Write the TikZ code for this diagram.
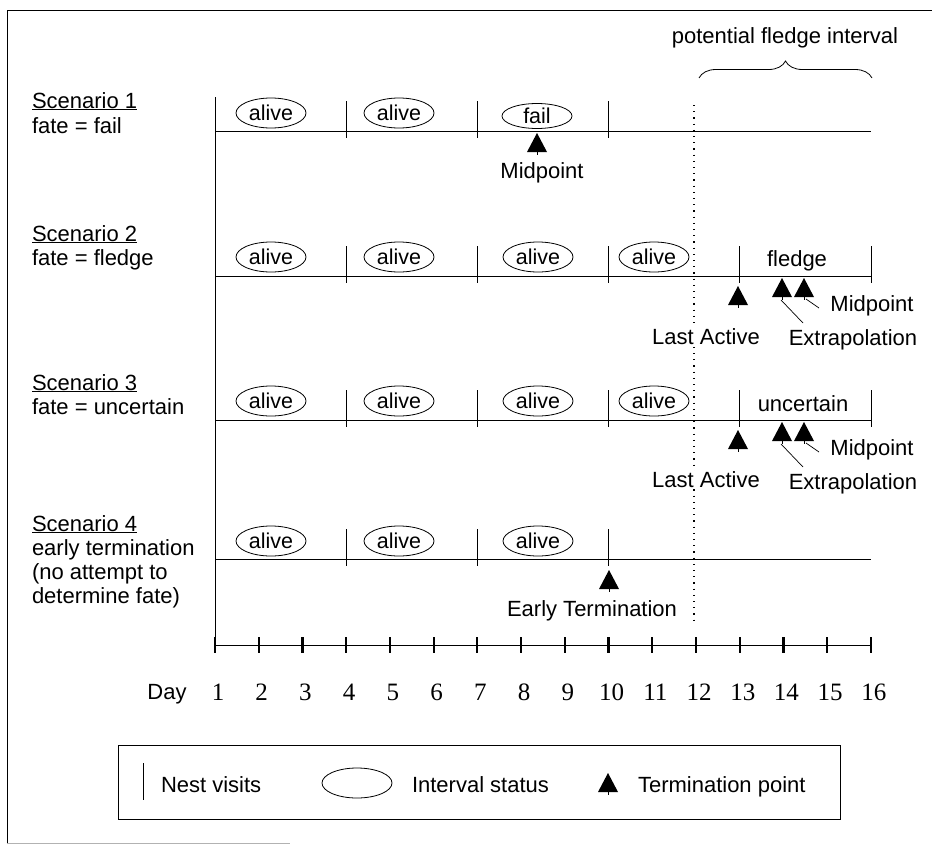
\documentclass[tikz,border=0pt]{standalone}
\usepackage{fontspec}
\setmainfont{Liberation Sans}
\newfontfamily\numfont{Liberation Serif}
\usetikzlibrary{shapes.geometric,decorations.pathreplacing,calc}
\begin{document}
\begin{tikzpicture}[x=1pt,y=-1pt,
  every node/.style={font=\fontsize{22}{25}\selectfont, inner sep=0pt, outer sep=0pt},
  ln/.style={line width=0.9pt},
  stat/.style={draw, ellipse, line width=0.8pt, minimum width=70pt, minimum height=30pt, inner sep=0pt, font=\fontsize{21.5}{24}\selectfont},
  lbl/.style={anchor=base west},
  txt/.style={anchor=base},
  num/.style={anchor=base, font=\fontsize{25}{28}\numfont},
  lead/.style={line width=0.7pt},
  tri/.pic={\fill (0,0) -- (-10,19) -- (10,19) -- cycle; \draw[line width=0.7pt] (0,19) -- (0,22);}
]
\useasboundingbox (0,0) rectangle (932,844);
% frame
\draw[line width=0.8pt] (7,844) -- (7,10) -- (932,10);
\draw[line width=0.6pt, gray!60] (7,843) -- (290,843);

% title + brace
\node[txt] (pfi) at (785,43) {potential fledge interval};
\draw[line width=0.8pt, decorate, decoration={brace, amplitude=17pt}] (699,78) -- (872,78);

% dotted line
\draw[line width=1.2pt, dash pattern=on 1.2pt off 5pt] (694,105) -- (694,620);

% scenario labels
\node[lbl] (s1a) at (32,108) {\underline{Scenario 1}};
\node[lbl] (s1b) at (32,133) {fate = fail};
\node[lbl] (s2a) at (32,241) {\underline{Scenario 2}};
\node[lbl] (s2b) at (32,265) {fate = fledge};
\node[lbl] (s3a) at (32,390) {\underline{Scenario 3}};
\node[lbl] (s3b) at (32,414) {fate = uncertain};
\node[lbl] (s4a) at (32,531) {\underline{Scenario 4}};
\node[lbl] (s4b) at (32,555) {early termination};
\node[lbl] (s4c) at (32,579) {(no attempt to};
\node[lbl] (s4d) at (32,603) {determine fate)};

% main vertical
\draw[ln] (215,97) -- (215,645);

% ---- Scenario 1 (baseline 131)
\draw[ln] (215,131) -- (871,131);
\foreach \d in {4,7,10} \draw[ln] ({215+(\d-1)*43.73},101) -- ++(0,37);
\node[stat] (a11) at (271,113) {alive};
\node[stat] (a12) at (399,113) {alive};
\node[stat, minimum height=25pt] (f13) at (537,116) {fail};
\pic at (537,133) {tri};
\node[txt] (mid1) at (542,178) {Midpoint};

% ---- Scenario 2 (baseline 276)
\draw[ln] (215,276) -- (871,276);
\foreach \d in {4,7,10,13,16} \draw[ln] ({215+(\d-1)*43.73},246) -- ++(0,37);
\node[stat] (a21) at (271,257) {alive};
\node[stat] (a22) at (399,257) {alive};
\node[stat] (a23) at (538,257) {alive};
\node[stat] (a24) at (654,257) {alive};
\node[txt] (fl) at (797,266) {fledge};
\pic at (738,286) {tri};
\pic at (782,278) {tri};
\pic at (804,278) {tri};
\node[txt, fill=white] (la2) at (706,344) {Last Active};
\node[txt] (ex2) at (853,345) {Extrapolation};
\node[txt] (mp2) at (872,311) {Midpoint};
\coordinate (e2s) at (781,300);
\coordinate (e2e) at (803,323);
\coordinate (m2s) at (806,299);
\coordinate (m2e) at (819,308);
\draw[lead] (e2s) -- (e2e);
\draw[lead] (m2s) -- (m2e);

% ---- Scenario 3 (baseline 420)
\draw[ln] (215,420) -- (871,420);
\foreach \d in {4,7,10,13,16} \draw[ln] ({215+(\d-1)*43.73},390) -- ++(0,37);
\node[stat] (a31) at (271,401) {alive};
\node[stat] (a32) at (399,401) {alive};
\node[stat] (a33) at (538,401) {alive};
\node[stat] (a34) at (654,401) {alive};
\node[txt] (un) at (803,411) {uncertain};
\pic at (738,430) {tri};
\pic at (782,422) {tri};
\pic at (804,422) {tri};
\node[txt, fill=white] (la3) at (706,487) {Last Active};
\node[txt] (ex3) at (853,489) {Extrapolation};
\node[txt] (mp3) at (872,455) {Midpoint};
\coordinate (e3s) at (781,444);
\coordinate (e3e) at (803,467);
\coordinate (m3s) at (806,443);
\coordinate (m3e) at (819,452);
\draw[lead] (e3s) -- (e3e);
\draw[lead] (m3s) -- (m3e);

% ---- Scenario 4 (baseline 559)
\draw[ln] (215,559) -- (871,559);
\foreach \d in {4,7,10} \draw[ln] ({215+(\d-1)*43.73},529) -- ++(0,37);
\node[stat] (a41) at (271,541) {alive};
\node[stat] (a42) at (399,541) {alive};
\node[stat] (a43) at (538,541) {alive};
\pic at (609,570) {tri};
\node[txt] (et) at (592,616) {Early Termination};

% ---- Day axis
\draw[ln] (215,645) -- (871,645);
\foreach \d in {1,...,16} {
  \draw[line width=2.2pt] ({215+(\d-1)*43.73},637) -- ++(0,16);
  \node[num] (d\d) at ({218+(\d-1)*43.73},700) {\d};
}
\node[txt] (day) at (167,699) {Day};

% ---- Legend
\node[draw, line width=0.8pt, minimum width=722pt, minimum height=74pt] (legend) at (479,782) {};
\draw[line width=0.7pt] (143,763) -- (143,800);
\node[lbl] (nv) at (161,792) {Nest visits};
\node[stat] (lell) at (357,783) {};
\node[lbl] (is) at (412,792) {Interval status};
\pic at (608,773) {tri};
\node[lbl] (tp) at (638,792) {Termination point};
\end{tikzpicture}
\end{document}
